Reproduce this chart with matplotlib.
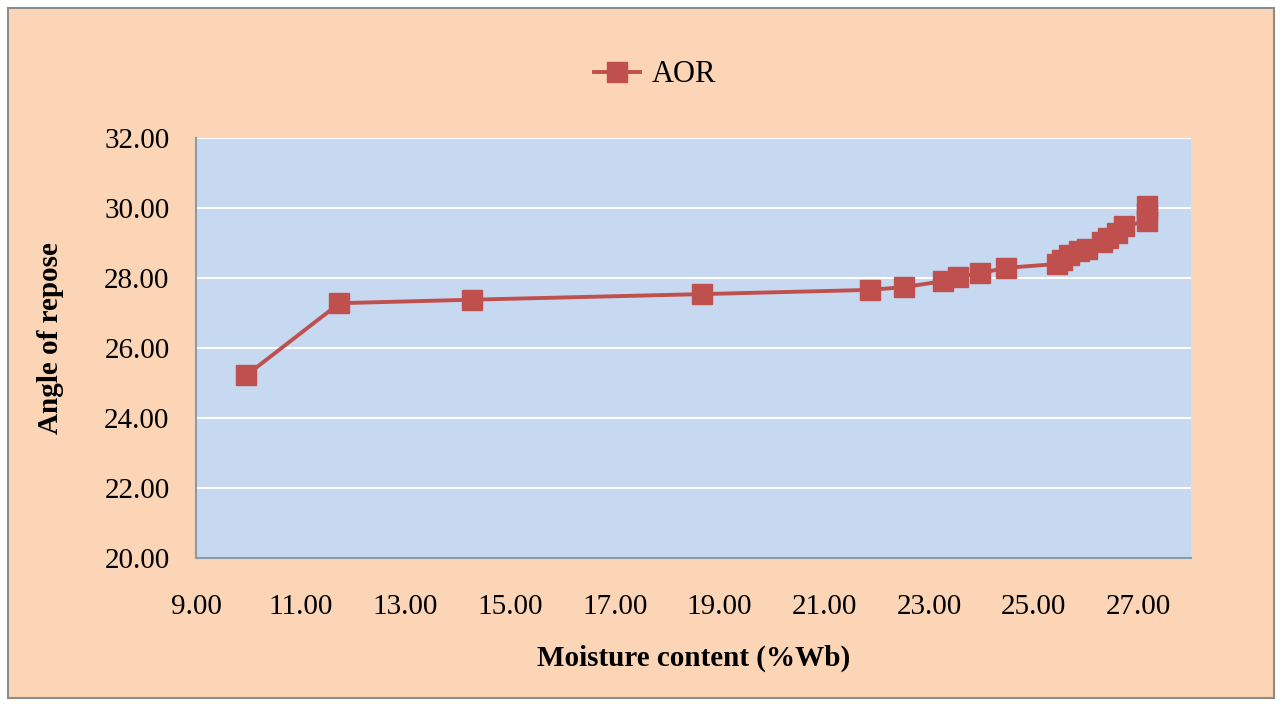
import numpy as np
import matplotlib.pyplot as plt
from matplotlib.patches import Rectangle
from matplotlib.ticker import FormatStrFormatter

# moisture content (%Wb) and angle of repose
moisture = [9.96, 11.74, 14.27, 18.66, 21.87, 22.52, 23.27, 23.56, 23.98, 24.47,
            25.44, 25.54, 25.67, 25.86, 26.01, 26.30, 26.41, 26.59, 26.73,
            27.16, 27.16, 27.16]
aor = [25.22, 27.28, 27.38, 27.54, 27.66, 27.74, 27.91, 28.03, 28.14, 28.29,
       28.40, 28.51, 28.66, 28.77, 28.83, 29.04, 29.13, 29.30, 29.49,
       29.62, 29.85, 30.05]

x_ticks = np.arange(9, 28, 2)
y_ticks = np.arange(20, 33, 2)

plt.rcParams['font.family'] = ['Liberation Serif', 'DejaVu Serif']

fig = plt.figure(figsize=(12.81, 7.04), dpi=100)
fig.patch.set_facecolor('white')
fig.patches.append(Rectangle((8 / 1281, 6 / 704), 1266 / 1281, 690 / 704,
                             transform=fig.transFigure, facecolor='#FBD5B5',
                             edgecolor='#8C8C8C', linewidth=1.5, zorder=-10))

ax = fig.add_axes([196 / 1281, 1 - 558 / 704, 995 / 1281, 420 / 704])
ax.set_facecolor('#C6D9F0')
ax.plot(moisture, aor, color='#C0504D', linewidth=2.8, marker='s',
        markersize=14, markeredgecolor='#C0504D', label='AOR', zorder=3)

ax.set_xlim(9, 28)
ax.set_ylim(20, 32)
ax.set_xticks(x_ticks)
ax.set_yticks(y_ticks)
ax.xaxis.set_major_formatter(FormatStrFormatter('%.2f'))
ax.yaxis.set_major_formatter(FormatStrFormatter('%.2f'))
ax.tick_params(length=0, labelsize=21)
ax.tick_params(axis='y', pad=19)
ax.tick_params(axis='x', pad=26)
ax.grid(axis='y', color='white', linewidth=1.5)
ax.set_axisbelow(True)
for s in ['top', 'right']:
    ax.spines[s].set_visible(False)
for s in ['left', 'bottom']:
    ax.spines[s].set_color('#8C9BAA')
    ax.spines[s].set_linewidth(1.5)

ax.set_xlabel('Moisture content (%Wb)', fontsize=21, fontweight='bold')
ax.set_ylabel('Angle of repose', fontsize=21, fontweight='bold')
ax.xaxis.set_label_coords(0.5, -0.207)
ax.yaxis.set_label_coords(-0.133, 0.524)

fig.legend(loc='center', bbox_to_anchor=(655 / 1281, 1 - 75 / 704), frameon=False,
           fontsize=22, handlelength=1.5, handletextpad=0.4)

fig.savefig('out.png', dpi=100)
